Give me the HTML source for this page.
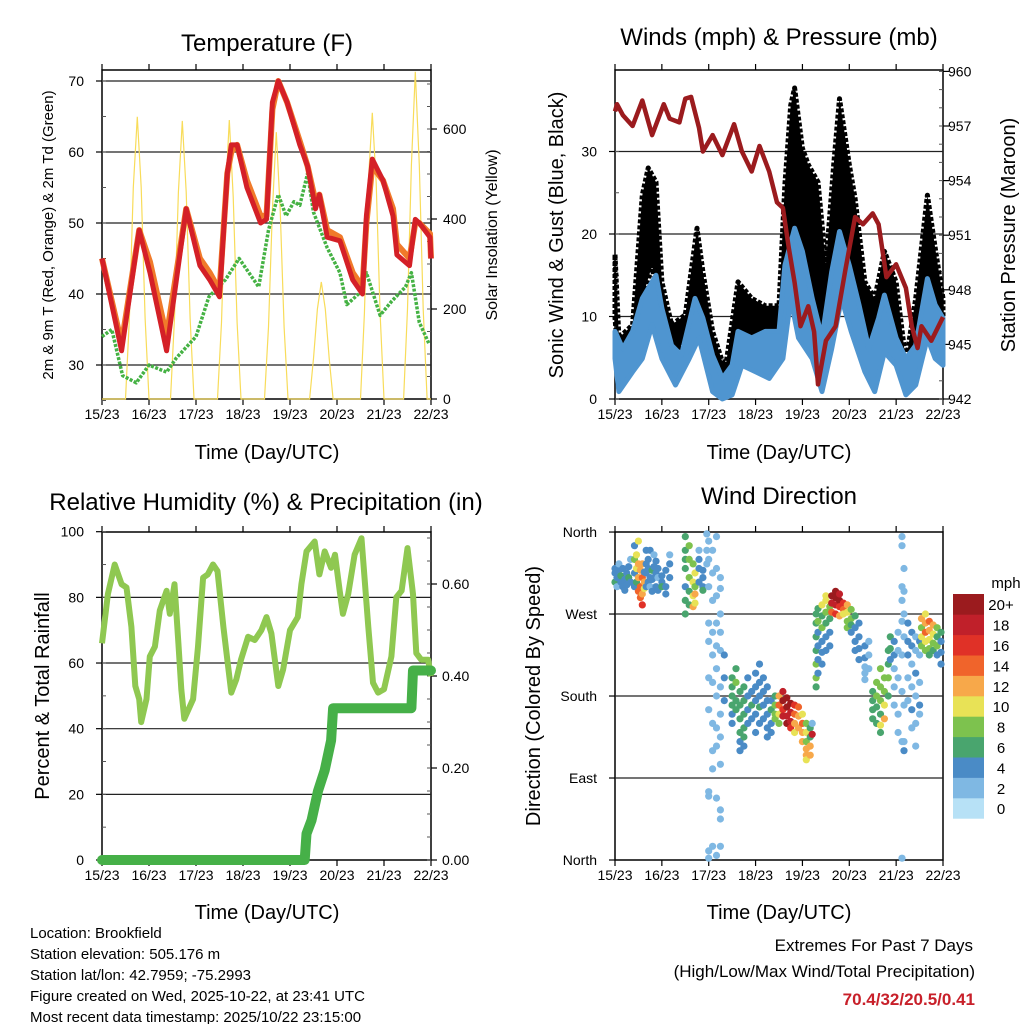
<!DOCTYPE html>
<html><head><meta charset="utf-8">
<style>
html,body{margin:0;padding:0;background:#fff;}
svg{display:block;font-family:"Liberation Sans",Arial,sans-serif;}
</style></head>
<body>
<svg id="chart" width="1024" height="1024" viewBox="0 0 1024 1024" xmlns="http://www.w3.org/2000/svg">
<rect width="1024" height="1024" fill="#fff"/>
<text x="267" y="51" font-size="24" text-anchor="middle">Temperature (F)</text>
<text x="779" y="45" font-size="24" text-anchor="middle">Winds (mph) &amp; Pressure (mb)</text>
<text x="266" y="510" font-size="24" text-anchor="middle">Relative Humidity (%) &amp; Precipitation (in)</text>
<text x="779" y="504" font-size="24" text-anchor="middle">Wind Direction</text>

<text x="267" y="459" font-size="20" text-anchor="middle">Time (Day/UTC)</text>
<text x="779" y="459" font-size="20" text-anchor="middle">Time (Day/UTC)</text>
<text x="267" y="919" font-size="20" text-anchor="middle">Time (Day/UTC)</text>
<text x="779" y="919" font-size="20" text-anchor="middle">Time (Day/UTC)</text>

<text transform="translate(53,235) rotate(-90)" font-size="15" text-anchor="middle">2m &amp; 9m T (Red, Orange) &amp; 2m Td (Green)</text>
<text transform="translate(497,235) rotate(-90)" font-size="16" text-anchor="middle">Solar Insolation (Yellow)</text>
<text transform="translate(563,235) rotate(-90)" font-size="20" text-anchor="middle">Sonic Wind &amp; Gust (Blue, Black)</text>
<text transform="translate(1015,235) rotate(-90)" font-size="20" text-anchor="middle">Station Pressure (Maroon)</text>
<text transform="translate(49,696) rotate(-90)" font-size="20" text-anchor="middle">Percent &amp; Total Rainfall</text>
<text transform="translate(540,696) rotate(-90)" font-size="20" text-anchor="middle">Direction (Colored By Speed)</text>

<g font-size="15">
<text x="30" y="938">Location: Brookfield</text>
<text x="30" y="959">Station elevation: 505.176 m</text>
<text x="30" y="980">Station lat/lon: 42.7959; -75.2993</text>
<text x="30" y="1001">Figure created on Wed, 2025-10-22, at 23:41 UTC</text>
<text x="30" y="1022">Most recent data timestamp: 2025/10/22 23:15:00</text>
</g>
<g text-anchor="end">
<text x="973" y="951" font-size="17">Extremes For Past 7 Days</text>
<text x="975" y="977" font-size="17">(High/Low/Max Wind/Total Precipitation)</text>
<text x="975" y="1005" font-size="17" font-weight="bold" fill="#c8202a">70.4/32/20.5/0.41</text>
</g>
<g id="layer"></g>
</svg>
<script>
// ---- shared time axis ----
const dayLabels = ["15/23","16/23","17/23","18/23","19/23","20/23","21/23","22/23"];

// ---- Temperature panel ----
const tempRedT = [0,10,19,24.5,33,43,50,55,60,64,66,69,74,81,84,87,90,94.5,101,105,109,111,115,121.5,128,133,135,138,143.5,148.6,150.6,157,160,162,167.5,168];
const tempRedV = [45,32,49,43,32,52,44,42,39.6,57,61,61,55,50,50.5,67,70,67,61,58,52,54,48,47.5,42,40,51,59,56,51,45.5,44,50.5,50,48,45];
const tempOrgT = [0,10,19,24.5,33,43,50,55,60,64,66,69,74,81,84,87,90,94.5,101,105,109,111,115,121.5,128,133,135,138,143.5,148.6,150.6,157,160,162,167.5,168];
const tempOrgV = [45,33,49,44.5,34,52,45,43,40.5,57,60,61,56,51,51,66,70,67,61.5,58,53,54,49,48,43,41,50,58,56,52,47,45,50,50,48.5,45];
const dewT = [0,5,10.5,17.5,24,33,38,48,54.6,63,70,80,85,90,94,98,101,105,108,115,121.5,125,131,135,142,148,155,158,162,167];
const dewV = [34,35,28.5,27.5,30,29,31,34,39.6,42,45,41,49,54,51,53,52.5,57,51.5,46.5,43,38.5,40,43,37,39,41,43,36,33];
const solarT = [0,12,14,16,18,20,22,24,35,37,39,41,43,45,47,59,61,63,65,67,69,71,83,85,87,89,91,93,95,106,108,110,112,114,116,118,132,134,136,138,140,142,144,154,156,158,160,162,164,166,168];
const solarV = [0,0,180,470,627,470,180,0,0,180,460,618,460,180,0,0,170,450,620,450,170,0,0,160,420,593,420,160,0,0,90,200,260,200,90,0,0,190,480,636,480,190,0,0,200,520,727,520,200,0,0];
const tempTicks = [30,40,50,60,70];
const solarTicks = [0,200,400,600];

// ---- Winds panel ----
const windHiT = [0,4,9,14,21,24,29,34,41,45,50,55,60,63,70,77,84,87,92,96,101,106,111,115,120,125,130,135,138,144,149,154,160,164,168];
const windHiV = [8.2,6.1,8.2,12.2,15,11,6.5,5.3,12.2,9.8,5.3,2.5,4.1,8.2,7.4,8.2,8.2,16.2,20.7,17.9,12.2,7.4,15.4,20.3,16.2,11.4,6.1,9.8,12.6,7.4,4.9,6.5,14.6,11.4,9.8];
const windLoT = [0,2,9,14,19,24,31,38,43,50,55,60,65,72,79,86,90,94,101,106,111,116,121,128,133,138,144,149,154,160,164,168];
const windLoV = [4.9,0.9,3.3,4.9,9,4.9,1.7,4.9,7.4,0.9,0,0.5,4.1,3.3,2.5,4.9,12.2,7.4,4.9,0.9,6.1,12.2,8.2,3.3,0.9,5.7,4.1,0.5,1.7,7.4,4.9,4.1];
const gustHiT = [0,2,9,14,17,21,24,29,36,42,45,50,55,57,63,70,77,84,87,90,92,96,99,104,108,112,115,120,123,128,133,138,144,149,154,160,164,168];
const gustHiV = [17.5,7.4,9,24.7,28,26.3,14.2,9,10.2,20.7,15.4,8.2,4.5,4.5,14.2,12.2,11.3,11.3,26,35.6,37.7,30.4,28.4,26.3,16.2,28.4,36.4,28.4,24.3,14.2,12.2,17.9,14.2,4.5,12.2,24.7,18.3,12.2];
const gustLoT = [0,2,9,14,19,24,31,38,43,50,55,60,65,72,79,86,90,94,101,106,111,116,121,128,133,138,144,149,154,160,164,168];
const gustLoV = [9.8,4.1,5.7,12.2,16.2,8.6,5.3,8.2,11.3,3.3,1.7,2.1,8.2,6.1,6.1,9,18.3,14.2,9,4.1,10.2,18.3,14.2,7.4,4.1,9,7,2.5,4.1,11.4,7.4,6.5];
const presT = [0,1,4,9,14,19,25,28,33,36,39,43,45,50,55,61,65,70,74,79,83,86,89,92,95,99,102,104,108,113,118,123,127,132,135,139,144,149,152,155,157,162,168];
const presV = [957.8,958.2,957.6,957,958.4,956.5,958.2,957.4,957.2,958.5,958.6,956.9,955.6,956.5,955.4,957.1,955.6,954.5,955.9,954.5,952.8,952.5,950.3,948.4,946,947.1,945.7,942.8,945.2,946,949.1,952,951.6,952.2,951.6,948.7,949.4,948.1,946,944.8,946,945.2,946.5];
const windTicks = [0,10,20,30];
const presTicks = [942,945,948,951,954,957,960];

// ---- RH / precipitation panel ----
const rhT = [0,3,6.5,10,12.5,15,17,19,20,22.7,24.4,27,29.5,33,34.6,37,39,40.5,42,46.5,49,51.6,54,56.7,59,62,64.4,66,68.6,71,74.6,78,81.4,84,86.5,90,92.5,96,100,101.8,104.4,108.6,111,113.7,117,119,121.4,123,125.7,129,132.5,136,138.4,141,144,147.8,150.3,153,156,158.8,160.5,163,166.5,168];
const rhV = [66,81,90,84,83,71,53,49,42,49,62,65,76,82,75,84,66,52,43,49,65,86,87,90,88,71,59,51,55,61,68,67,70,74,69,53,58,70,74,84,94,97,87,94,89,93,82,75,81,93,98,71,54,51,52,62,80,82,95,81,63,61,61,56];
const precipT = [0,103.5,104.4,107,110.3,113.7,117,118,158,158.8,168];
const precipV = [0,0,0.057,0.086,0.15,0.195,0.26,0.33,0.33,0.412,0.412];
const rhTicks = [0,20,40,60,80,100];
const precipTicks = [0,0.2,0.4,0.6];

// ---- Wind direction panel ----
const dirHours = [0,1,2,3,4,5,6,7,8,10,11,12,13,14,15,16,17,18,19,20,21,22,24,26,28,36,38,40,41,43,45,47,48,50,52,54,56,60,62,64,66,68,70,72,74,76,78,80,82,84,86,88,90,92,94,96,98,100,101,103,104,106,108,110,111,113,115,117,119,121,123,125,128,130,132,134,136,138,140,141,143,145,147,148,150,152,154,156,157,159,161,163,165,167];
const dirDegs = [[315,305,320],[310,300],[318,325],[305,312],[300,320],[308,296],[315,302],[322,310],[305,330],[330,315,300,345],[320,335,305],[310,325,295,350],[300,318,288],[310,292,280,325],[305,298,316],[315,300,325,340],[320,305,330],[310,300,340],[318,308,295],[322,310,335],[300,315,328],[310,320,296],[305,312,300],[300,318,292],[310,325,335],[355,340,330,320,300,285,270],[345,330,310,295,280],[325,305,290,278],[315,300,282,292],[320,305,330,340],[310,300,318,296],[325,340,358],[350,330,300,260,240,200,165,75,70,10,2],[340,315,285,250,225,195,150,120,100,15],[355,320,290,260,235,210,180,145,125,68,5],[310,298,270,250,230,190,160,135,105,45,55,15],[225,175,200],[200,190,180,170,160,150],[210,195,175,165],[185,170,155,140,130,120],[190,175,160,145,135,125],[200,180,165,150],[185,170,155],[205,190,175,160,140],[215,195,180,168,150],[200,185,170,155],[190,175,160,145,135],[175,165,150,140],[180,170,160,155],[180,170,160,150],[185,175,165,158],[178,168,158,150],[172,162,152,145],[170,160,150,140],[168,158,145],[160,150,140,130],[150,140,130,122,115,110],[145,135,125,115],[150,138],[190,200,215,230,245,260,270],[205,220,235,250,262,276],[215,228,240,255,268,280],[230,245,260,272,285,290],[235,250,265,278],[282,290,272],[288,295,280,270],[285,292,278,268],[282,275,270],[280,272,262,255],[275,265,258,250],[268,255,240,230],[260,245,232,220],[235,222,212,205,198],[240,225,210],[185,175,165,155],[195,180,168,150],[210,190,175,160,148,140],[200,185,170,155],[230,215,200,180],[245,232,220],[240,225,210,190,170],[250,230,200,160,140],[355,345,300,285,262,225,185,130,2],[320,295,270,245,170,130,120],[260,240,225,200,175],[250,235,215,190,165,145],[245,230,205,180,150,125],[240,225,195,170,160],[265,255,245,235],[270,260,250,240,230],[262,252,242,232,225],[258,248,238,230],[255,245,235,225],[250,240,228,215]];
const dirSpeeds = [[4,6,3],[4,2],[4,2],[4,5],[4,3],[4,4],[3,4],[4,5],[4,2],[8,4,4,3],[10,10,6],[12,11,13,10],[14,12,14],[13,12,15,11],[12,10,4],[4,4,4,3],[4,3,4],[4,2,4],[5,4,4],[4,3,2],[4,4,4],[2,4,3],[4,4,5],[3,4,4],[4,3,2],[6,6,6,6,4,6,6],[8,8,8,6,6],[8,10,10,12],[10,8,10,11],[4,4,3,2],[4,4,4,6],[2,2,2],[2,2,2,2,2,2,2,2,2,2,2],[2,2,2,2,2,2,2,2,2,2],[2,2,2,2,2,2,2,2,2,2,2],[2,2,2,2,2,2,2,2,2,2,2,2],[4,4,4],[6,6,6,6,4,4],[6,8,6,6],[6,6,6,6,4,4],[6,6,6,6,6,4],[4,4,4,4],[4,6,4],[4,4,4,4,4],[4,4,4,6,4],[4,4,4,4],[4,4,4,4,4],[4,6,4,4],[6,8,8,8],[12,14,10,8],[18,20,16,18],[20,20,18,20],[20,18,18,16],[16,14,12,10],[14,12,12],[10,14,12,12],[8,10,8,12,12,10],[6,6,12,12],[2,18],[6,8,8,6,6,6,6],[4,4,4,4,8,6],[4,4,4,8,6,10],[4,4,6,8,10,10],[4,4,6,8],[18,20,14],[20,20,18,16],[20,18,16,12],[16,14,10],[12,10,8,8],[8,8,6,4],[6,4,4,4],[4,4,4,4],[4,4,2,2,2],[2,2,2],[6,6,6,6],[8,8,6,6],[8,8,8,6,10,6],[8,8,10,12],[6,6,8,6],[6,6,4],[4,4,2,2,2],[2,2,2,2,2],[2,2,2,2,2,2,2,2,2],[2,2,2,2,2,2,4],[4,4,4,2,2],[4,4,2,2,4,2],[2,2,4,2,2,2],[4,2,2,4,2],[12,8,10,8],[10,12,14,10,8],[14,12,10,8,6],[12,10,8,6],[8,6,8,4],[6,4,4,4]];
const dirTicks = [0,90,180,270,360];
const dirTickLabels = ["North","East","South","West","North"];
const speedColors = ["#b7e1f6","#7fb8e3","#4a8bc6","#49a56e","#7dc24e","#e8e256","#f7a84a","#f0642b","#e03127","#c0202a","#9b1b1e"];
const speedLabels = ["0","2","4","6","8","10","12","14","16","18","20+"];

const NS = "http://www.w3.org/2000/svg";
const layer = document.getElementById("layer");
function mk(tag, attrs, parent) {
  const e = document.createElementNS(NS, tag);
  for (const k in attrs) e.setAttribute(k, attrs[k]);
  (parent || layer).appendChild(e);
  return e;
}
function panelX(x0, x1) { return t => x0 + t / 168 * (x1 - x0); }
function linePath(ts, vs, xf, yf) {
  return ts.map((t, i) => (i ? "L" : "M") + xf(t).toFixed(1) + "," + yf(vs[i]).toFixed(1)).join("");
}

function frame(name, x0, x1, y0, y1) {
  const g = mk("g", {});
  
  
  mk("rect", {x: x0, y: y0, width: x1 - x0, height: y1 - y0, fill: "none", stroke: "#000", "stroke-width": 1.5}, g);
  const xf = panelX(x0, x1);
  dayLabels.forEach((lab, i) => {
    const x = xf(i * 24);
    mk("line", {x1: x, x2: x, y1: y1, y2: y1 + 6, stroke: "#000", "stroke-width": 1.2}, g);
    mk("line", {x1: x, x2: x, y1: y0, y2: y0 - 6, stroke: "#000", "stroke-width": 1.2}, g);
    const t = mk("text", {x: x, y: y1 + 20, "font-size": 14, "text-anchor": "middle"}, g);
    
    
    t.textContent = lab;
  });
  return g;
}
function yAxis(g, side, x, ticks, labels, yf, minorStep, lo, hi, anchorX) {
  const dir = side === "left" ? -1 : 1;
  ticks.forEach((v, i) => {
    const y = yf(v);
    mk("line", {x1: x, x2: x + dir * 6, y1: y, y2: y, stroke: "#000", "stroke-width": 1.2}, g);
    const t = mk("text", {x: anchorX, y: y + 5, "font-size": 14, "text-anchor": side === "left" ? "end" : "start"}, g);
    
    
    t.textContent = labels[i];
  });
  if (minorStep) {
    for (let v = lo; v <= hi + 1e-9; v += minorStep) {
      const y = yf(v);
      mk("line", {x1: x, x2: x - dir * 4, y1: y, y2: y, stroke: "#555", "stroke-width": 1}, g);
    }
  }
}
function grid(g, x0, x1, ys) {
  ys.forEach(y => mk("line", {x1: x0, x2: x1, y1: y, y2: y, stroke: "#222", "stroke-width": 1.2}, g));
}

// ===== Panel 1: Temperature =====
(function () {
  const x0 = 102, x1 = 431, y0 = 70, y1 = 399;
  const xf = panelX(x0, x1);
  const ty = v => 81 + (70 - v) * 7.1;
  const sy = s => y1 - s * 0.45;
  const g = frame("temperature", x0, x1, y0, y1);
  grid(g, x0, x1, tempTicks.map(ty));
  const solar = mk("path", {d: linePath(solarT, solarV, xf, sy), fill: "none", stroke: "#f8dc5a", "stroke-width": 1.2});
  
  
  const dew = mk("path", {d: linePath(dewT, dewV, xf, ty), fill: "none", stroke: "#45b244", "stroke-width": 3.5, "stroke-dasharray": "3 1.5", "stroke-linejoin": "round"});
  
  
  const org = mk("path", {d: linePath(tempOrgT, tempOrgV, xf, ty), fill: "none", stroke: "#f07a2a", "stroke-width": 6, "stroke-linejoin": "round"});
  
  
  const red = mk("path", {d: linePath(tempRedT, tempRedV, xf, ty), fill: "none", stroke: "#d42027", "stroke-width": 5, "stroke-linejoin": "round"});
  
  
  yAxis(g, "left", x0, tempTicks, tempTicks.map(String), ty, 5, 25, 70, 84);
  yAxis(g, "right", x1, solarTicks, solarTicks.map(String), sy, 50, 0, 700, 443);
})();

// ===== Panel 2: Winds & Pressure =====
(function () {
  const x0 = 615, x1 = 943, y0 = 70, y1 = 399;
  const xf = panelX(x0, x1);
  const wy = m => y1 - m * 8.25;
  const py = p => y1 - (p - 942) * 18.2;
  const g = frame("winds", x0, x1, y0, y1);
  grid(g, x0, x1, [10, 20, 30].map(wy));
  function band(hiT, hiV, loT, loV, color, name) {
    let d = hiT.map((t, i) => (i ? "L" : "M") + xf(t).toFixed(1) + "," + wy(hiV[i]).toFixed(1)).join("");
    for (let i = loT.length - 1; i >= 0; i--) d += "L" + xf(loT[i]).toFixed(1) + "," + wy(loV[i]).toFixed(1);
    const p = mk("path", {d: d + "Z", fill: color, stroke: color, "stroke-width": 5, "stroke-linejoin": "round", "stroke-dasharray": name === "gust" ? "4 2" : "none"});
    
    
  }
  band(gustHiT, gustHiV, gustLoT, gustLoV, "#000", "gust");
  band(windHiT, windHiV, windLoT, windLoV, "#4f95d0", "wind");
  const pr = mk("path", {d: linePath(presT, presV, xf, py), fill: "none", stroke: "#9b1b1e", "stroke-width": 4.5, "stroke-linejoin": "round"});
  
  
  yAxis(g, "left", x0, windTicks, windTicks.map(String), wy, 5, 0, 35, 597);
  yAxis(g, "right", x1, presTicks, presTicks.map(String), py, 1, 942, 960, 948);
})();

// ===== Panel 3: RH & Precip =====
(function () {
  const x0 = 102, x1 = 431, y0 = 532, y1 = 860;
  const xf = panelX(x0, x1);
  const ry = r => y1 - r * 3.283;
  const qy = p => y1 - p * 460;
  const g = frame("humidity", x0, x1, y0, y1);
  grid(g, x0, x1, [20, 40, 60, 80].map(ry));
  const rh = mk("path", {d: linePath(rhT, rhV, xf, ry), fill: "none", stroke: "#8fc851", "stroke-width": 6, "stroke-linejoin": "round"});
  
  
  const pc = mk("path", {d: linePath(precipT, precipV, xf, qy), fill: "none", stroke: "#46b048", "stroke-width": 10, "stroke-linejoin": "round", "stroke-linecap": "round"});
  
  
  yAxis(g, "left", x0, rhTicks, rhTicks.map(String), ry, 10, 0, 100, 84);
  yAxis(g, "right", x1, precipTicks, precipTicks.map(v => v.toFixed(2)), qy, 0.05, 0, 0.7, 442);
})();

// ===== Panel 4: Wind direction =====
(function () {
  const x0 = 615, x1 = 943, y0 = 532, y1 = 860;
  const xf = panelX(x0, x1);
  const dy = d => y1 - d * 0.911;
  const g = frame("wind-direction", x0, x1, y0, y1);
  grid(g, x0, x1, [90, 180, 270].map(dy));
  const pts = mk("g", {});
  
  
  dirHours.forEach((h, i) => {
    dirDegs[i].forEach((d, j) => {
      const s = dirSpeeds[i][j];
      const ci = Math.min(10, Math.round(s / 2));
      const c = mk("circle", {cx: xf(h).toFixed(1), cy: dy(d).toFixed(1), r: 3.6, fill: speedColors[ci]}, pts);
      
      
    });
  });
  yAxis(g, "left", x0, dirTicks, dirTickLabels, dy, 0, 0, 0, 597);
  // colorbar
  const cb = mk("g", {});
  
  
  const bx = 953, bw = 31, bTop = 594, bh = 20.4;
  speedColors.forEach((col, i) => {
    const y = bTop + (10 - i) * bh;
    const r = mk("rect", {x: bx, y: y, width: bw, height: bh + 0.3, fill: col}, cb);
    
    
    const t = mk("text", {x: 1001, y: y + bh / 2 + 6, "font-size": 15, "text-anchor": "middle"}, cb);
    
    
    t.textContent = speedLabels[i];
  });
  const u = mk("text", {x: 1006, y: 588, "font-size": 15, "text-anchor": "middle"}, cb);
  
  
  u.textContent = "mph";
})();
</script>
</body></html>
